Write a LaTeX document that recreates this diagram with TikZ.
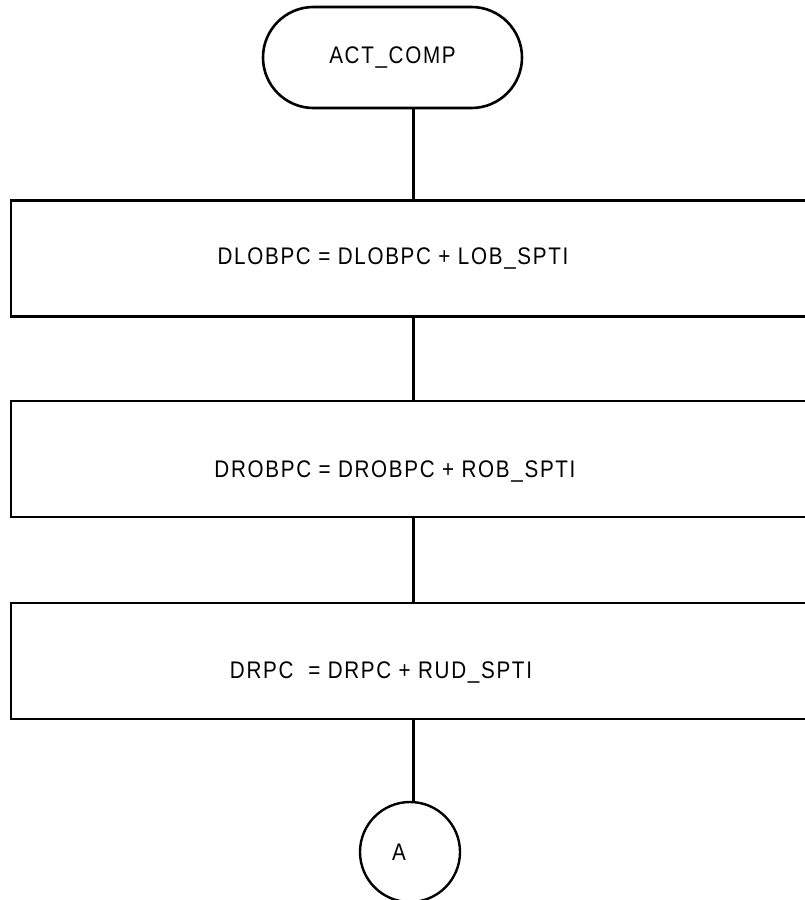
\documentclass[tikz,border=0pt]{standalone}
\usepackage{fontspec}
\setmainfont{Liberation Sans}[FakeStretch=0.86,LetterSpace=7]
\usepackage{tikz}
\usetikzlibrary{shapes,positioning,calc}

\tikzset{
    termbox/.style={rounded rectangle, draw, line width=2.6pt, minimum width=259pt, minimum height=101pt, inner sep=0pt},
    procbox/.style={rectangle, draw, line width=2.8pt, minimum width=829pt, minimum height=116pt, inner sep=0pt},
    connbox/.style={circle, draw, line width=2.4pt, minimum size=100pt, inner sep=0pt},
    lbl/.style={inner sep=0pt, font=\fontsize{24}{28}\selectfont},
    flow/.style={line width=2.2pt}
}

\begin{document}
\begin{tikzpicture}[x=1pt, y=-1pt]
    \useasboundingbox (0,0) rectangle (805,900);

    % Start
    \node[termbox] (start) at (392.5,57.5) {};
    \node[lbl] (starttxt) at (392.5,58) {ACT\_COMP};

    % Steps
    \node[procbox] (dlob) at (425.5,258.5) {};
    \node[lbl] (dlobtxt) at (393,259) {DLOBPC = DLOBPC + LOB\_SPTI};

    \node[procbox] (drob) at (425.5,459) {};
    \node[lbl] (drobtxt) at (395,471) {DROBPC = DROBPC + ROB\_SPTI};

    \node[procbox] (drpc) at (425.5,661) {};
    \node[lbl] (drpctxt) at (381,672) {DRPC\ \ = DRPC + RUD\_SPTI};

    % Off-page connector
    \node[connbox] (conA) at (410,852) {};
    \node[lbl] (conAtxt) at (399,852) {A};

    % Flow line
    \coordinate (spine) at (413.5,0);
    \draw[flow] (start.south -| spine) -- (dlob.north -| spine);
    \draw[flow] (dlob.south -| spine) -- (drob.north -| spine);
    \draw[flow] (drob.south -| spine) -- (drpc.north -| spine);
    \draw[flow] (drpc.south -| spine) -- (conA.north -| spine);
\end{tikzpicture}
\end{document}
